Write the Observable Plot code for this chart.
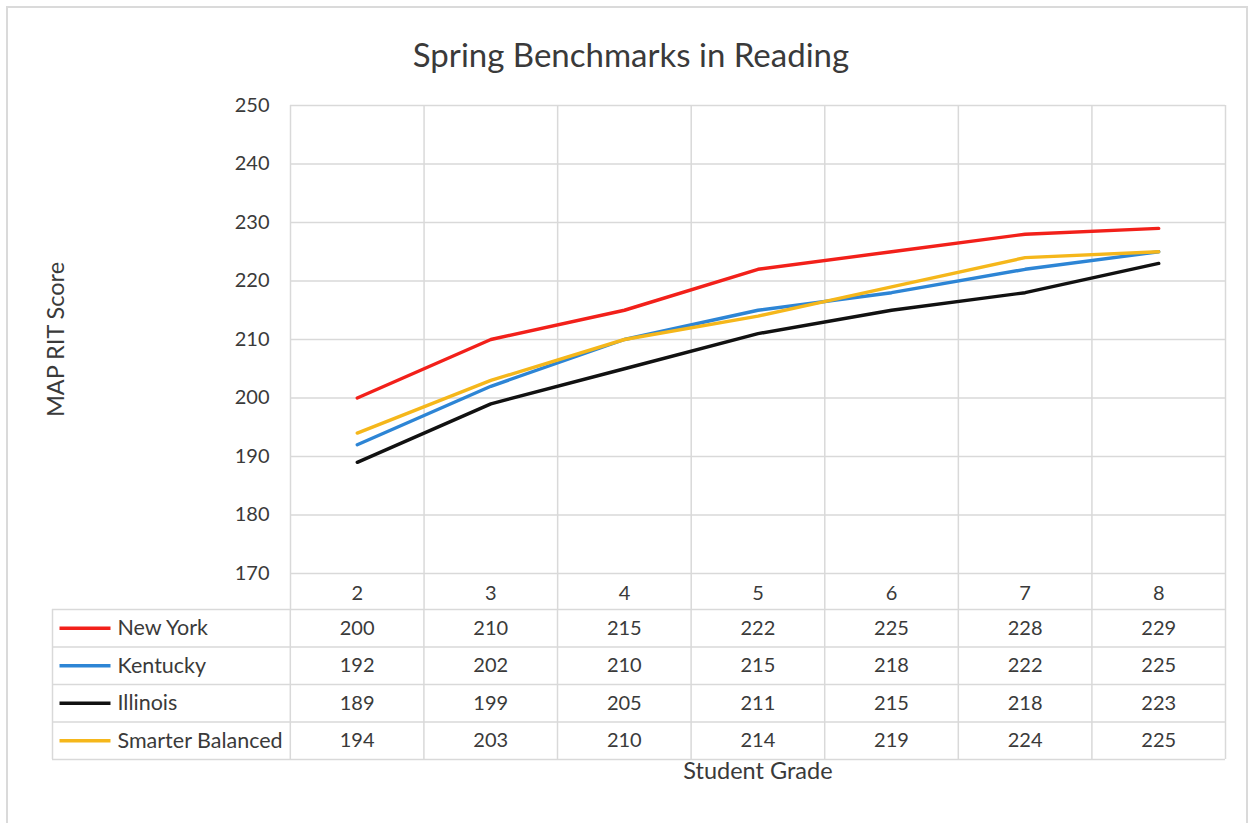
<!DOCTYPE html>
<html>
<head>
<meta charset="utf-8">
<script src="https://cdn.jsdelivr.net/npm/d3@7"></script>
<script src="https://cdn.jsdelivr.net/npm/@observablehq/plot@0.6"></script>
<style>
  html, body { margin: 0; padding: 0; background: #fff; }
  #wrap { position: relative; width: 1254px; height: 823px; overflow: hidden; font-family: Lato, sans-serif; }
  #frame { position: absolute; left: 6px; top: 6px; width: 1242px; height: 830px; border: 2px solid #dadada; box-sizing: border-box; }
  #title { position: absolute; top: 38px; left: 0; width: 1262px; text-align: center; font-size: 33px; line-height: 33px; color: #3a3a3a; }
  #chart { position: absolute; left: 0; top: 0; }
  #table { position: absolute; left: 0; top: 608px; }
</style>
</head>
<body>
<div id="wrap">
  <div id="frame"></div>
  <div id="title">Spring Benchmarks in Reading</div>
  <div id="chart"></div>
  <div id="table"></div>
</div>
<script>
const grades = [2, 3, 4, 5, 6, 7, 8];
const seriesNames = ["New York", "Kentucky", "Illinois", "Smarter Balanced"];
const newYork = [200, 210, 215, 222, 225, 228, 229];
const kentucky = [192, 202, 210, 215, 218, 222, 225];
const illinois = [189, 199, 205, 211, 215, 218, 223];
const smarterBalanced = [194, 203, 210, 214, 219, 224, 225];
const seriesColors = ["#f2201a", "#2d85d5", "#111111", "#f5b71b"];
const yTicks = [170, 180, 190, 200, 210, 220, 230, 240, 250];

const allSeries = [newYork, kentucky, illinois, smarterBalanced];
const data = [];
allSeries.forEach((vals, si) => vals.forEach((v, gi) => data.push({series: seriesNames[si], row: si, grade: grades[gi], value: v})));

const gridColor = "#d9d9d9";
const textColor = "#3a3a3a";
const xEdges = grades.map(g => g - 0.5).concat([grades[grades.length - 1] + 0.5]);
const xDomain = [xEdges[0], xEdges[xEdges.length - 1]];
const yDomain = [yTicks[0], yTicks[yTicks.length - 1]];
const colorScale = {domain: seriesNames, range: seriesColors};
const baseStyle = {fontFamily: "Lato, sans-serif", fontSize: "20px", color: textColor, background: "transparent", overflow: "visible"};

const chart = Plot.plot({
  width: 1254,
  height: 609,
  marginTop: 105,
  marginBottom: 36,
  marginLeft: 290,
  marginRight: 29,
  style: baseStyle,
  x: {domain: xDomain},
  y: {domain: yDomain},
  color: colorScale,
  marks: [
    Plot.gridY(yTicks, {stroke: gridColor, strokeOpacity: 1, strokeWidth: 1.5}),
    Plot.ruleX(xEdges, {stroke: gridColor, strokeWidth: 1.5, insetBottom: -36}),
    Plot.axisY(yTicks, {tickSize: 0, tickPadding: 21, label: null, fontSize: 20}),
    Plot.axisX(grades, {tickSize: 0, tickPadding: 12, label: null, fontSize: 20, tickFormat: d => String(d)}),
    Plot.text(["MAP RIT Score"], {y: d3.mean(yDomain), frameAnchor: "left", dx: -234, rotate: -90, textAnchor: "middle", text: d => d, fill: textColor, fontSize: 23.5}),
    Plot.line(data, {x: "grade", y: "value", z: "series", stroke: "series", strokeWidth: 3.4})
  ]
});
document.getElementById("chart").appendChild(chart);

const legendCols = 1.78;
const tableEdges = [xEdges[0] - legendCols].concat(xEdges);
const rowEdges = d3.range(seriesNames.length + 1);

const lineSymbol = {
  draw(context, size) {
    context.moveTo(-25.5, 0);
    context.lineTo(25.5, 0);
  }
};

const table = Plot.plot({
  width: 1254,
  height: 215,
  marginTop: 1,
  marginBottom: 64,
  marginLeft: 52,
  marginRight: 29,
  style: baseStyle,
  x: {domain: [tableEdges[0], xDomain[1]], axis: null},
  y: {domain: [0, seriesNames.length], reverse: true, axis: null},
  color: colorScale,
  marks: [
    Plot.ruleY(rowEdges, {stroke: gridColor, strokeWidth: 1.5}),
    Plot.ruleX(tableEdges, {stroke: gridColor, strokeWidth: 1.5}),
    Plot.text(data, {x: "grade", y: d => d.row + 0.5, text: d => String(d.value), fill: textColor, fontSize: 20}),
    Plot.dot(seriesNames, {y: (d, i) => i + 0.5, frameAnchor: "left", dx: 32.5, symbol: lineSymbol, stroke: d => d, fill: "none", strokeWidth: 3.4, r: 10}),
    Plot.text(seriesNames, {y: (d, i) => i + 0.5, frameAnchor: "left", dx: 65, textAnchor: "start", text: d => d, fill: textColor, fontSize: 21.5}),
    Plot.text(["Student Grade"], {x: d3.mean(grades), frameAnchor: "bottom", dy: 19, text: d => d, fill: textColor, fontSize: 23.5})
  ]
});
document.getElementById("table").appendChild(table);
</script>
</body>
</html>
